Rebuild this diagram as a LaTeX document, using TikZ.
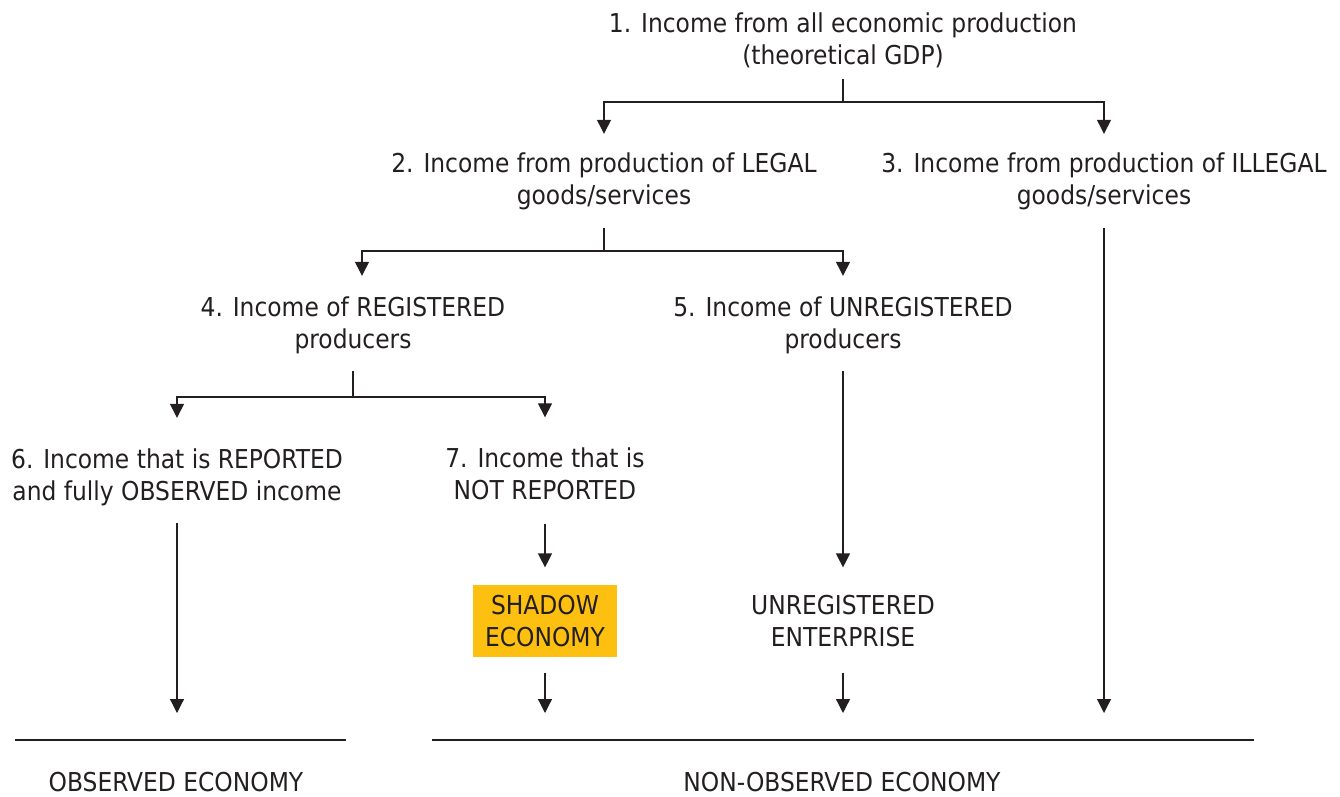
\documentclass[tikz,border=0pt]{standalone}
\usepackage{fontspec}
\setmainfont{DejaVu Sans Condensed}
\usetikzlibrary{arrows.meta}
\definecolor{ink}{HTML}{231F20}
\definecolor{shadow}{HTML}{FDC010}
\begin{document}
\begin{tikzpicture}
			[x=1pt, y=-1pt, ink, line width=1.2pt,
			txt/.style={align=center, inner sep=0pt, text=ink, font=\fontsize{26}{32}\selectfont},
			box/.style={txt, minimum width=144pt, minimum height=72pt},
			tip/.style={-{Triangle[width=14pt,length=14pt]}}]
			\useasboundingbox (0,0) rectangle (1340,797);
			\node[txt] (n1) at (843,40) {1. Income from all economic production\\(theoretical GDP)};
			\node[txt] (n2) at (604,181) {2. Income from production of LEGAL\\goods/services};
			\node[txt] (n3) at (1104,181) {3. Income from production of ILLEGAL\\goods/services};
			\node[txt] (n4) at (353,325) {4. Income of REGISTERED\\producers};
			\node[txt] (n5) at (843,325) {5. Income of UNREGISTERED\\producers};
			\node[txt] (n6) at (177,477) {6. Income that is REPORTED\\and fully OBSERVED income};
			\node[txt] (n7) at (545,474) {7. Income that is\\NOT REPORTED};
			\node[box, fill=shadow] (sh) at (545,621) {SHADOW\\ECONOMY};
			\node[box] (ue) at (843,621) {UNREGISTERED\\ENTERPRISE};
			\node[txt] (obs) at (176,782) {OBSERVED ECONOMY};
			\node[txt] (nonobs) at (842,782) {NON-OBSERVED ECONOMY};
			\coordinate (s1) at (843,102);
			\coordinate (s2) at (604,251);
			\coordinate (s4) at (353,397);
			\coordinate (o1) at (15,740);
			\coordinate (o2) at (346,740);
			\coordinate (p1) at (432,740);
			\coordinate (p2) at (1254,740);
			\draw[shorten <=11pt] (n1) -- (s1);
			\draw[tip, shorten >=18pt] (s1) -| (n2);
			\draw[tip, shorten >=18pt] (s1) -| (n3);
			\draw[shorten <=18pt] (n2) -- (s2);
			\draw[tip, shorten >=20pt] (s2) -| ([xshift=9pt]n4.north);
			\draw[tip, shorten >=20pt] (s2) -| (n5);
			\draw[shorten <=17pt] (n4) -- (s4);
			\draw[tip, shorten >=30pt] (s4) -| (n6);
			\draw[tip, shorten >=30pt] (s4) -| (n7);
			\draw[tip, shorten <=23pt, shorten >=17pt] (n7) -- (sh);
			\draw[tip, shorten <=17pt, shorten >=17pt] (n5) -- (ue);
			\draw[tip, shorten <=17pt, shorten >=27pt] (n6) -- (n6 |- o1);
			\draw[tip, shorten <=15pt, shorten >=27pt] (sh) -- (sh |- p1);
			\draw[tip, shorten <=15pt, shorten >=27pt] (ue) -- (ue |- p1);
			\draw[tip, shorten <=18pt, shorten >=27pt] (n3) -- (n3 |- p1);
			\draw (o1) -- (o2);
			\draw (p1) -- (p2);
		\end{tikzpicture}
\end{document}
